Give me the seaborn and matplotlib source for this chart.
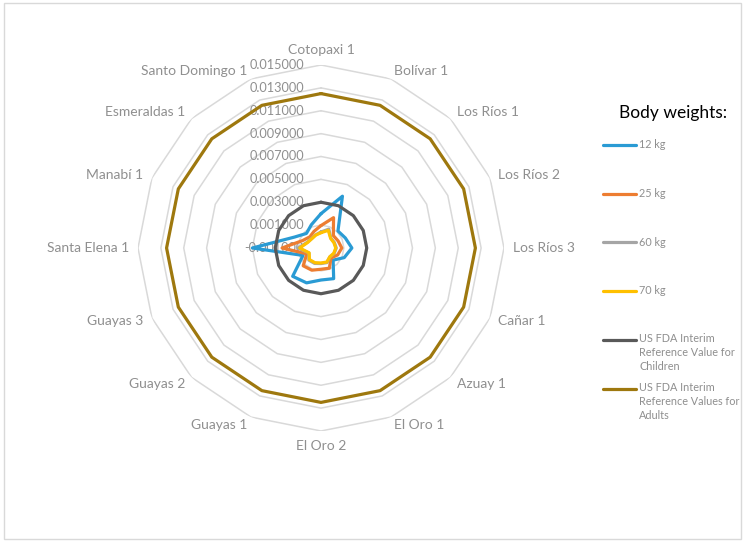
import numpy as np
import pandas as pd
import seaborn as sns
import matplotlib.pyplot as plt
from matplotlib.transforms import offset_copy
from matplotlib.lines import Line2D
from matplotlib.patches import Rectangle

# Data
regions = ['Cotopaxi 1', 'Bolívar 1', 'Los Ríos 1', 'Los Ríos 2', 'Los Ríos 3', 'Cañar 1',
           'Azuay 1', 'El Oro 1', 'El Oro 2', 'Guayas 1', 'Guayas 2', 'Guayas 3',
           'Santa Elena 1', 'Manabí 1', 'Esmeraldas 1', 'Santo Domingo 1']

kg12 = [0.0020, 0.0039, 0.0011, 0.0013, 0.0017, 0.0012, 0.0005, 0.0019,
        0.0018, 0.0023, 0.0025, 0.0007, 0.0050, 0.0015, 0.0008, 0.0012]
kg25 = [0.00096, 0.00187, 0.00053, 0.00062, 0.00082, 0.00058, 0.00024, 0.00091,
        0.00086, 0.0011, 0.0012, 0.00034, 0.0024, 0.00072, 0.00038, 0.00058]
kg60 = [0.0004, 0.00078, 0.00022, 0.00026, 0.00034, 0.00024, 0.0001, 0.00038,
        0.00036, 0.00046, 0.0005, 0.00014, 0.001, 0.0003, 0.00016, 0.00024]
kg70 = [0.00034, 0.00067, 0.00019, 0.00022, 0.00029, 0.00021, 0.00009, 0.00033,
        0.00031, 0.00039, 0.00043, 0.00012, 0.00086, 0.00026, 0.00014, 0.00021]
fda_children = [0.003, 0.003, 0.003, 0.003, 0.003, 0.003, 0.003, 0.003,
                0.003, 0.003, 0.003, 0.003, 0.003, 0.003, 0.003, 0.003]
fda_adults = [0.0125, 0.0125, 0.0125, 0.0125, 0.0125, 0.0125, 0.0125, 0.0125,
              0.0125, 0.0125, 0.0125, 0.0125, 0.0125, 0.0125, 0.0125, 0.0125]

series_names = ['12 kg', '25 kg', '60 kg', '70 kg',
                'US FDA Interim\nReference Value for\nChildren',
                'US FDA Interim\nReference Values for\nAdults']
series_values = [kg12, kg25, kg60, kg70, fda_children, fda_adults]
colors = ['#2a9bd4', '#ed7d31', '#a5a5a5', '#ffc000', '#595959', '#9e780e']

r_ticks = [-0.001, 0.001, 0.003, 0.005, 0.007, 0.009, 0.011, 0.013, 0.015]

# long table, each loop closed by repeating the first region
n = len(regions)
rows = []
for name, vals in zip(series_names, series_values):
    for i in range(n + 1):
        rows.append({'series': name, 'theta': 2 * np.pi * i / n, 'value': vals[i % n]})
df = pd.DataFrame(rows)

sns.set_theme(style='white')
plt.rcParams['font.family'] = ['Lato', 'DejaVu Sans']

fig = plt.figure(figsize=(7.45, 5.42), dpi=100)
ax = fig.add_axes([0.1852, 0.2048, 0.4913, 0.6753], projection='polar')
ax.set_theta_zero_location('N')
ax.set_theta_direction(-1)
ax.set_ylim(-0.001, 0.015)

# polygon grid
grid_theta = [2 * np.pi * i / n for i in range(n + 1)]
for lvl in r_ticks[1:]:
    ax.plot(grid_theta, [lvl] * (n + 1), color='#d9d9d9', lw=1.1, zorder=1)

sns.lineplot(data=df, x='theta', y='value', hue='series', palette=colors,
             sort=False, estimator=None, linewidth=2.3, legend=False, ax=ax, zorder=3)

ax.grid(False)
ax.spines['polar'].set_visible(False)
ax.set_xticks([])
ax.set_yticks([])
ax.set_xlabel('')
ax.set_ylabel('')

# radial value labels
trans = offset_copy(ax.transData, fig=fig, x=-17, y=0, units='dots')
for lvl in r_ticks:
    ax.text(0, lvl, f'{lvl:.6f}', transform=trans, ha='right', va='center',
            fontsize=9.2, color='#8f8f8f', zorder=2)

# category labels
r_lab = 0.01579
for i, reg in enumerate(regions):
    deg = 360 * i / n
    if deg == 0:
        ha, va = 'center', 'bottom'
    elif deg == 180:
        ha, va = 'center', 'top'
    elif deg < 180:
        ha, va = 'left', 'center'
    else:
        ha, va = 'right', 'center'
    ax.text(2 * np.pi * i / n, r_lab, reg, ha=ha, va=va, fontsize=10, color='#8f8f8f')

# legend
W, H = 745, 542
fig.text(619 / W, 1 - 113 / H, 'Body weights:', ha='left', va='center',
         fontsize=12.5, color='#000000')
legend_y = [145, 193.5, 242, 291, 340, 389]
for name, c, y in zip(series_names, colors, legend_y):
    fig.add_artist(Line2D([603 / W, 636 / W], [1 - y / H, 1 - y / H],
                          transform=fig.transFigure, color=c, lw=2.3))
    if '\n' in name:
        fig.text(639 / W, 1 - (y - 7) / H, name, ha='left', va='top', fontsize=7.8,
                 color='#8f8f8f', linespacing=1.35)
    else:
        fig.text(639 / W, 1 - y / H, name, ha='left', va='center', fontsize=7.8,
                 color='#8f8f8f')

# chart border
fig.add_artist(Rectangle((4 / W, 3 / H), 737 / W, 536 / H, transform=fig.transFigure,
                         fill=False, edgecolor='#d9d9d9', lw=1))

fig.savefig('out.png', dpi=100)
